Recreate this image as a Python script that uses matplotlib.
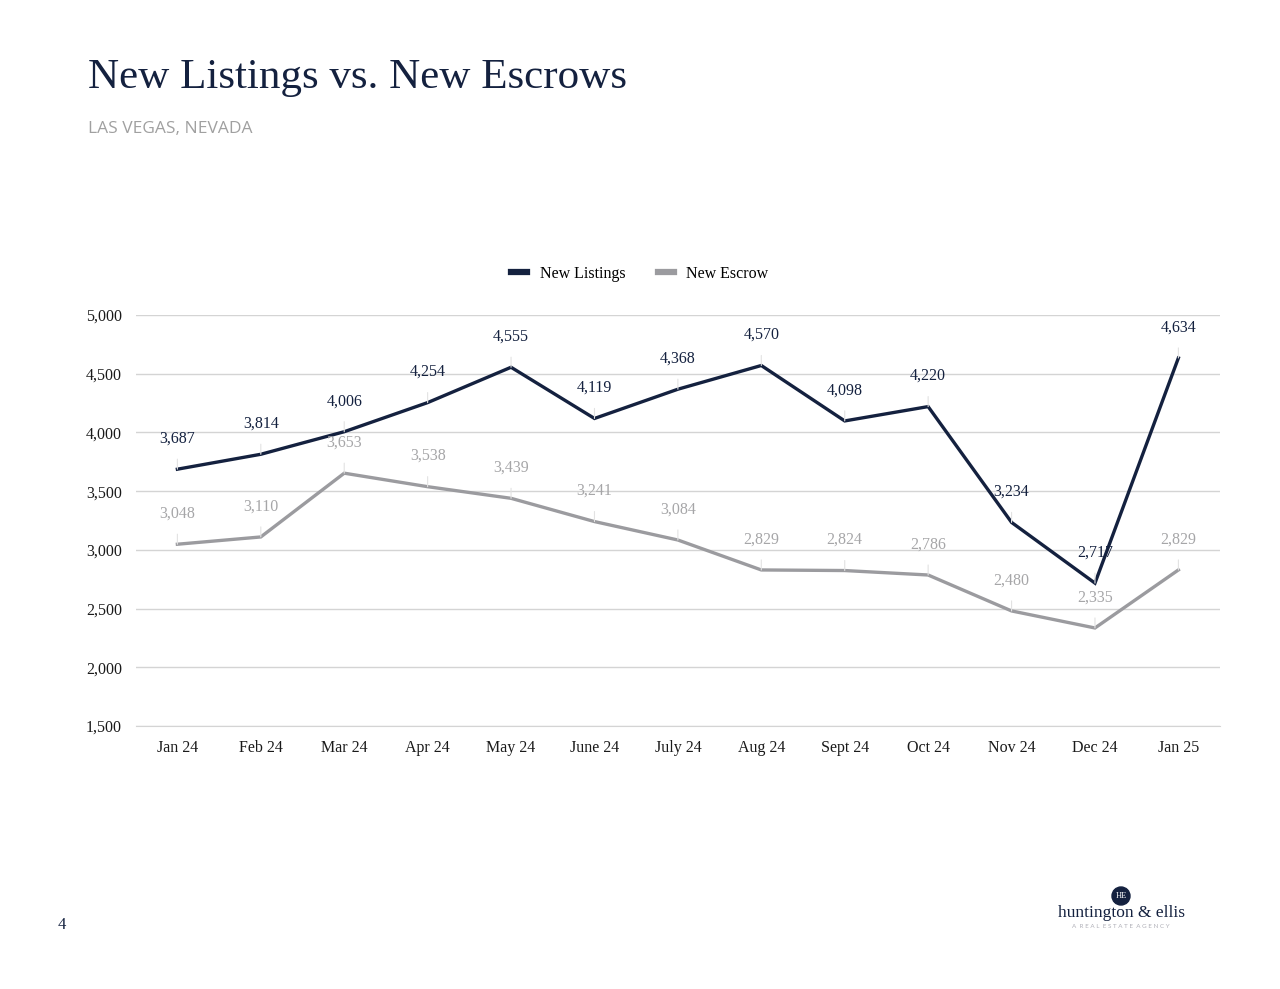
import matplotlib
matplotlib.use("Agg")
import matplotlib.pyplot as plt
from matplotlib.lines import Line2D
from matplotlib.patches import Ellipse

months = ["Jan 24", "Feb 24", "Mar 24", "Apr 24", "May 24", "June 24", "July 24",
          "Aug 24", "Sept 24", "Oct 24", "Nov 24", "Dec 24", "Jan 25"]
new_listings = [3687, 3814, 4006, 4254, 4555, 4119, 4368, 4570, 4098, 4220, 3234, 2717, 4634]
new_escrow = [3048, 3110, 3653, 3538, 3439, 3241, 3084, 2829, 2824, 2786, 2480, 2335, 2829]
yticks = [1500, 2000, 2500, 3000, 3500, 4000, 4500, 5000]

NAVY = "#14213f"
GRAY = "#9b9b9f"
LGRAY = "#a6a6a8"
SERIF = ["Liberation Serif", "DejaVu Serif"]

fig = plt.figure(figsize=(12.8, 9.89), dpi=100)
ax = fig.add_axes([0.1060, 0.2659, 0.8472, 0.4156])

x = list(range(len(months)))
ax.plot(x, new_listings, color=NAVY, lw=2.4, solid_joinstyle="miter", zorder=3)
ax.plot(x, new_escrow, color=GRAY, lw=2.4, solid_joinstyle="miter", zorder=3)

def label(xs, ys, color):
    for xi, yi in zip(xs, ys):
        ax.annotate(f"{yi:,}", xy=(xi, yi), xytext=(0, 22), textcoords="offset points",
                    ha="center", va="center", color=color, fontsize=11.5,
                    family=SERIF, zorder=4,
                    arrowprops=dict(arrowstyle="-", color="#e2e2e2", lw=0.8,
                                    shrinkA=7, shrinkB=0))

label(x, new_listings, NAVY)
label(x, new_escrow, LGRAY)

ax.set_xlim(-0.5, 12.5)
ax.set_ylim(1500, 5000)
ax.set_yticks(yticks)
ax.set_yticklabels([f"{v:,}" for v in yticks])
ax.set_xticks(x)
ax.set_xticklabels(months)
ax.grid(axis="y", color="#d4d4d4", lw=1)
ax.set_axisbelow(True)
for s in ["top", "right", "left"]:
    ax.spines[s].set_visible(False)
ax.spines["bottom"].set_color("#d4d4d4")
ax.tick_params(axis="both", length=0, labelsize=11.5, colors="#1a1a1a", pad=10)
for t in ax.get_xticklabels() + ax.get_yticklabels():
    t.set_family(SERIF)
ax.tick_params(axis="y", pad=10)

handles = [Line2D([], [], color=NAVY, lw=4.5), Line2D([], [], color=GRAY, lw=4.5)]
fig.legend(handles, ["New Listings", "New Escrow"], loc="center", bbox_to_anchor=(0.5, 1 - 274 / 989),
           ncol=2, frameon=False, handlelength=1.0, handletextpad=0.8, columnspacing=2.0,
           prop={"family": SERIF, "size": 11.5})

fig.text(88 / 1280, 1 - 78 / 989, "New Listings vs. New Escrows", family=SERIF, fontsize=31,
         color=NAVY, va="center", ha="left")
fig.text(88 / 1280, 1 - 129 / 989, "LAS VEGAS, NEVADA", family=["Open Sans", "DejaVu Sans"], fontsize=12.5,
         color="#a0a0a0", va="center", ha="left")

fig.text(62 / 1280, 1 - 925 / 989, "4", family=SERIF, fontsize=12, color=NAVY, ha="center", va="center")

# logo
circ = Ellipse((1121 / 1280, 1 - 896 / 989), 18 / 1280, 18 / 989, transform=fig.transFigure, color=NAVY)
fig.patches.append(circ)
fig.text(1121 / 1280, 1 - 896 / 989, "HE", family=SERIF, fontsize=6, color="white", ha="center", va="center")
fig.text(1121 / 1280, 1 - 913 / 989, "huntington & ellis", family=SERIF, fontsize=12.5, color=NAVY,
         ha="center", va="center")
fig.text(1121 / 1280, 1 - 927 / 989, "A  R E A L  E S T A T E  A G E N C Y", family=["Lato", "DejaVu Sans"],
         fontsize=4.5, color="#b0b0b8", ha="center", va="center")

fig.savefig("out.png", dpi=100, facecolor="white")
